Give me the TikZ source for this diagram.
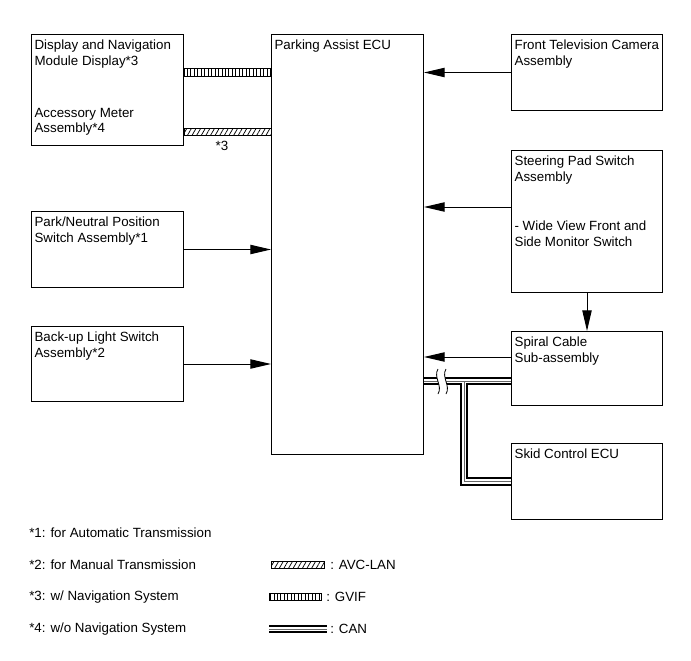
\documentclass[tikz,border=0pt]{standalone}
\usepackage{fontspec}
\setmainfont{Liberation Sans}
\usetikzlibrary{positioning,arrows.meta,patterns.meta}

\begin{document}
\begin{tikzpicture}[x=0.75pt,y=-0.75pt,
   font=\fontsize{10}{11.6}\selectfont,
   arr/.style={-{Triangle[length=15.5pt,width=7pt]},line width=0.75pt},
   box/.style={draw,line width=0.75pt,anchor=north west,inner sep=0pt,minimum width=114pt},
   txt/.style={anchor=north west,align=left,inner sep=0pt,xshift=2.5pt,yshift=-4.5pt},
   note/.style={anchor=west,inner sep=0pt},
   gvif/.style={draw,line width=0.6pt,pattern={Lines[angle=90,distance=2.6pt,line width=0.55pt]}},
   avc/.style={draw,line width=0.6pt,pattern={Lines[angle=60,distance=3pt,line width=0.55pt]}}]
\useasboundingbox (0,0) rectangle (691,660);

% left column
\node[box,minimum height=83.25pt,label={[txt]north west:{Display and Navigation\\Module Display*3\\[27.5pt]Accessory Meter\\Assembly*4}}] (disp) at (31,34) {};
\node[box,minimum height=57pt,label={[txt]north west:{Park/Neutral Position\\Switch Assembly*1}}] (park) at (31,211) {};
\node[box,minimum height=56.25pt,label={[txt]north west:{Back-up Light Switch\\Assembly*2}}] (backup) at (31,326) {};

% ECU
\node[box,minimum height=315pt,label={[txt]north west:Parking Assist ECU}] (ecu) at (271,34) {};

% right column
\node[box,minimum width=113.25pt,minimum height=57pt,label={[txt]north west:{Front Television Camera\\Assembly}}] (cam) at (511,34) {};
\node[box,minimum width=113.25pt,minimum height=106.5pt,label={[txt]north west:{Steering Pad Switch\\Assembly\\[25.5pt]- Wide View Front and\\Side Monitor Switch}}] (steer) at (511,150) {};
\node[box,minimum width=113.25pt,minimum height=55.5pt,label={[txt]north west:{Spiral Cable\\Sub-assembly}}] (spiral) at (511,331) {};
\node[box,minimum width=113.25pt,minimum height=57pt,label={[txt]north west:Skid Control ECU}] (skid) at (511,443) {};

% signal lines
\path[arr]
 (cam.west) edge (cam.west -| ecu.east)
 (steer.west |- 0,207) edge (ecu.east |- 0,207)
 (park.east) edge (park.east -| ecu.west)
 (backup.east) edge (backup.east -| ecu.west)
 (steer.south) edge (spiral.north)
 (spiral.west |- 0,357) edge (ecu.east |- 0,357);

% GVIF and AVC-LAN
\draw[gvif] (disp.east |- 0,68) rectangle (ecu.west |- 0,76);
\draw[avc] (disp.east |- 0,128) rectangle (ecu.west |- 0,135);
\node (n3) at (222,146) {*3};

% CAN
\coordinate (canj) at (464,381);
\foreach \lw/\col in {6.6pt/black,3.4pt/white,0.6pt/black!60}{
  \draw[line width=\lw,\col] (ecu.east |- canj) -- (spiral.west |- canj)
     (canj) |- (skid.west);
}
\fill[white] (438,369) .. controls (433,377) and (443,386) .. (438,394)
   -- (446,394) .. controls (451,386) and (441,377) .. (446,369) -- cycle;
\draw[line width=0.6pt] (438,369) .. controls (433,377) and (443,386) .. (438,394)
   (446,369) .. controls (441,377) and (451,386) .. (446,394);

% notes
\node[note] (f1) at (29,533) {*1: for Automatic Transmission};
\node[note] (f2) at (29,565) {*2: for Manual Transmission};
\node[note] (f3) at (29,597) {*3: w/ Navigation System};
\node[note] (f4) at (29,629) {*4: w/o Navigation System};

% legend
\node[note] (lavc) at (330,565) {: AVC-LAN};
\node[note] (lgvif) at (326,597) {: GVIF};
\node[note] (lcan) at (330,629) {: CAN};
\node[avc,minimum width=40pt,minimum height=5.25pt,inner sep=0pt,left=3.75pt of lavc] (savc) {};
\node[gvif,minimum width=39pt,minimum height=5.25pt,inner sep=0pt,left=3pt of lgvif] (sgvif) {};
\coordinate (sc1) at (269,629);
\coordinate (sc2) at (327,629);
\foreach \lw/\col in {6.6pt/black,3.4pt/white,0.6pt/black!60}{
  \draw[line width=\lw,\col] (sc1) -- (sc2);
}
\end{tikzpicture}
\end{document}
